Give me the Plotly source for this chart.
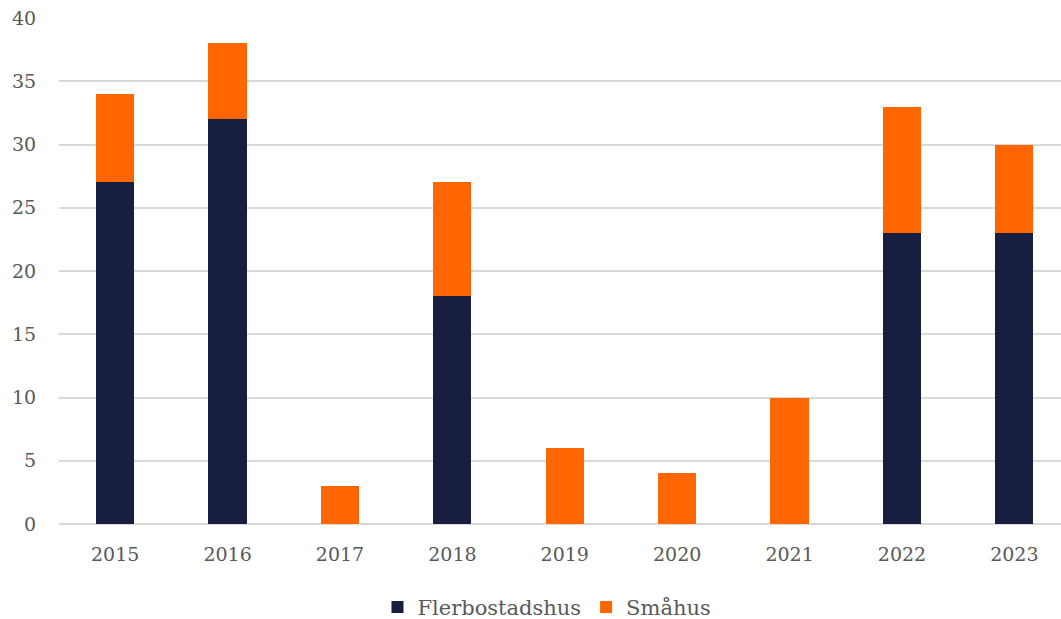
import plotly.graph_objects as go

years = ["2015", "2016", "2017", "2018", "2019", "2020", "2021", "2022", "2023"]
flerbostadshus = [27, 32, 0, 18, 0, 0, 0, 23, 23]
smahus = [7, 6, 3, 9, 6, 4, 10, 10, 7]

NAVY = "#181e3f"
ORANGE = "#ff6600"
TEXT = "#595959"
FONT = "DejaVu Serif"

fig = go.Figure()
fig.add_trace(go.Bar(x=years, y=flerbostadshus, name="Flerbostadshus",
                     marker=dict(color=NAVY, line=dict(width=0))))
fig.add_trace(go.Bar(x=years, y=smahus, name="Småhus",
                     marker=dict(color=ORANGE, line=dict(width=0))))

fig.update_layout(
    width=1061, height=619,
    barmode="stack",
    bargap=0.66,
    plot_bgcolor="white",
    paper_bgcolor="white",
    margin=dict(l=59, r=0, t=18, b=95, autoexpand=False),
    font=dict(family=FONT, size=19, color=TEXT),
    showlegend=True,
    legend=dict(orientation="h", x=0.487, xanchor="center",
                y=-0.124, yanchor="top",
                font=dict(size=21, color=TEXT), traceorder="normal",
                itemwidth=30),
    xaxis=dict(type="category", range=[-0.5, 8.415], showgrid=False,
               showline=False, ticks="outside", ticklen=13, tickcolor="white",
               tickfont=dict(size=19, color=TEXT)),
    yaxis=dict(range=[0, 40], dtick=5, showgrid=True, gridcolor="#d9d9d9",
               gridwidth=1.5, zeroline=True, zerolinecolor="#d9d9d9",
               zerolinewidth=1.5, showline=False, ticks="outside",
               ticklen=18, tickcolor="white",
               tickfont=dict(size=19, color=TEXT)),
)

fig.write_html("out.html")
